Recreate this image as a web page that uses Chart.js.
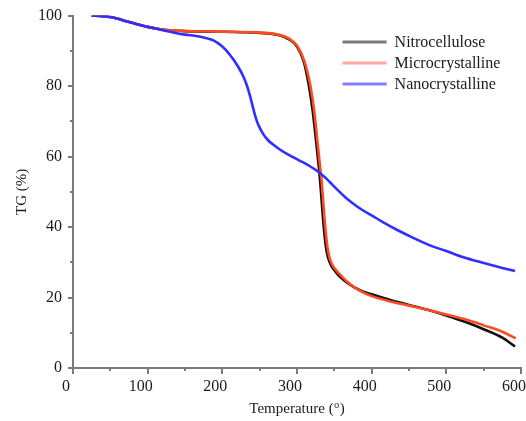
<!DOCTYPE html>
<html>
<head>
<meta charset="utf-8">
<script src="https://cdn.jsdelivr.net/npm/chart.js@4"></script>
<style>
  html, body { margin: 0; padding: 0; background: #fff; }
  #wrap { width: 526px; height: 421px; position: relative; }
</style>
</head>
<body>
<div id="wrap"><canvas id="c" width="526" height="421"></canvas></div>
<script>
// ---- data ----
const seriesNames = ["Nitrocellulose", "Microcrystalline", "Nanocrystalline"];

const tempNitro = [25, 40, 50, 60, 70, 80, 90, 100, 115, 130, 150, 200, 250, 275, 290, 300, 309, 316, 321, 326, 329, 331, 333, 335, 337, 339, 342, 346, 351, 358, 368, 384, 400, 425, 450, 475, 500, 525, 550, 575, 592];
const tgNitro   = [100, 99.85, 99.6, 99.1, 98.5, 97.9, 97.3, 96.8, 96.2, 95.85, 95.6, 95.4, 95.1, 94.5, 93.2, 91.2, 87, 80, 73, 63.5, 57.5, 53, 47.5, 42, 37.5, 34, 31, 29, 27.5, 25.8, 24.1, 22.1, 20.9, 19.3, 17.9, 16.5, 14.9, 13.1, 11.0, 8.6, 6.1];

const tempMicro = [25, 40, 50, 60, 70, 80, 90, 100, 115, 130, 150, 200, 250, 275, 290, 300, 310, 318, 323, 328, 331, 333, 335, 337, 339, 341, 344, 348, 353, 360, 370, 385, 400, 425, 450, 475, 500, 525, 550, 575, 593];
const tgMicro   = [100, 99.85, 99.6, 99.1, 98.5, 97.9, 97.3, 96.8, 96.2, 95.85, 95.6, 95.45, 95.15, 94.6, 93.4, 91.5, 87, 80, 73, 63, 57, 53, 47.5, 42, 37.5, 34, 31, 29, 27.6, 26, 24.0, 21.8, 20.4, 18.9, 17.7, 16.5, 15.2, 13.8, 12.1, 10.3, 8.4];

const tempNano = [25, 40, 50, 60, 70, 80, 90, 100, 115, 130, 143, 155, 165, 175, 185, 192, 198, 204, 210, 216, 222, 228, 233, 237, 240, 243, 246, 250, 255, 261, 268, 277, 286, 295, 304, 312, 320, 327, 333, 340, 347, 355, 365, 375, 387, 400, 415, 433, 455, 478, 500, 522, 550, 575, 592];
const tgNano   = [100, 99.85, 99.6, 99.1, 98.5, 97.9, 97.3, 96.8, 96.1, 95.4, 94.8, 94.5, 94.2, 93.8, 93.2, 92.5, 91.6, 90.4, 88.9, 87.2, 85.2, 82.8, 80.1, 77.3, 74.8, 72.3, 70.2, 68.2, 66.3, 64.7, 63.4, 62.0, 60.8, 59.8, 58.8, 57.9, 56.9, 55.9, 54.9, 53.6, 52.1, 50.4, 48.4, 46.7, 44.9, 43.3, 41.4, 39.3, 37.0, 34.8, 33.2, 31.5, 29.8, 28.4, 27.5];

const xTicks = [0, 100, 200, 300, 400, 500, 600];
const yTicks = [0, 20, 40, 60, 80, 100];

const lineColors   = ["#111111", "#ff4a22", "#2f2fff"];
const legendColors = ["#7a7a7a", "#ffa8a0", "#8080ff"];

const FONT = "'Liberation Serif', 'Times New Roman', serif";

function pts(xs, ys) { return xs.map((x, i) => ({ x: x, y: ys[i] })); }

// minor/major ticks drawn through the scales
const tickPlugin = {
  id: 'ticks',
  afterDraw(chart) {
    const ctx = chart.ctx, xs = chart.scales.x, ys = chart.scales.y;
    const area = chart.chartArea;
    ctx.save();
    ctx.strokeStyle = '#7a7a7a';
    ctx.lineWidth = 2;
    for (let v = 0; v <= 100; v += 10) {
      const p = Math.round(ys.getPixelForValue(v));
      const len = (v % 20 === 0) ? 5 : 3;
      ctx.beginPath(); ctx.moveTo(area.left, p); ctx.lineTo(area.left - len, p); ctx.stroke();
    }
    for (let v = 0; v <= 600; v += 50) {
      const p = Math.round(xs.getPixelForValue(v));
      const len = (v % 100 === 0) ? 6 : 3;
      ctx.beginPath(); ctx.moveTo(p, area.bottom); ctx.lineTo(p, area.bottom + len); ctx.stroke();
    }
    ctx.restore();
  }
};

// legend inside the plot
const legendPlugin = {
  id: 'inLegend',
  afterDraw(chart) {
    const ctx = chart.ctx;
    const x0 = chart.scales.x.getPixelForValue(361);
    const x1 = chart.scales.x.getPixelForValue(420);
    const yTop = chart.scales.y.getPixelForValue(92.5);
    const step = 21;
    ctx.save();
    ctx.font = "16px " + FONT;
    ctx.textBaseline = 'middle';
    seriesNames.forEach((name, i) => {
      const y = yTop + i * step;
      ctx.strokeStyle = legendColors[i];
      ctx.lineWidth = 3;
      ctx.beginPath(); ctx.moveTo(x0, y); ctx.lineTo(x1, y); ctx.stroke();
      ctx.fillStyle = '#1a1a1a';
      ctx.fillText(name, x1 + 8, y + 1);
    });
    ctx.restore();
  }
};

const datasets = [
  { label: seriesNames[0], data: pts(tempNitro, tgNitro), borderColor: lineColors[0], order: 2 },
  { label: seriesNames[1], data: pts(tempMicro, tgMicro), borderColor: lineColors[1], order: 1 },
  { label: seriesNames[2], data: pts(tempNano, tgNano), borderColor: lineColors[2], order: 0 }
].map(d => Object.assign(d, {
  borderWidth: 2.6, pointRadius: 0, fill: false, cubicInterpolationMode: 'monotone'
}));

new Chart(document.getElementById('c'), {
  type: 'line',
  data: { datasets: datasets },
  plugins: [tickPlugin, legendPlugin],
  options: {
    responsive: false,
    animation: false,
    events: [],
    layout: { padding: { top: 14, right: 5, left: 0, bottom: 0 } },
    plugins: { legend: { display: false }, tooltip: { enabled: false } },
    scales: {
      x: {
        type: 'linear', min: 0, max: 600,
        afterBuildTicks(s) { s.ticks = xTicks.map(v => ({ value: v })); },
        afterFit(s) { s.height = 53; s.paddingLeft = 0; s.paddingRight = 0; },
        grid: { display: false, drawTicks: true, tickLength: 6 },
        border: { display: true, color: '#7a7a7a', width: 2 },
        ticks: { font: { family: FONT, size: 16 }, color: '#1a1a1a', padding: 3, maxRotation: 0, labelOffset: -7 },
        title: { display: true, text: 'Temperature (°)', font: { family: FONT, size: 15 }, color: '#1a1a1a', padding: { top: 0, bottom: 3 } }
      },
      y: {
        min: 0, max: 100,
        afterBuildTicks(s) { s.ticks = yTicks.map(v => ({ value: v })); },
        afterFit(s) { s.width = 73; },
        grid: { display: false, drawTicks: true, tickLength: 5 },
        border: { display: true, color: '#7a7a7a', width: 2 },
        ticks: { font: { family: FONT, size: 16 }, color: '#1a1a1a', padding: 6 },
        title: { display: true, text: 'TG (%)', font: { family: FONT, size: 15 }, color: '#1a1a1a', padding: { top: 13, bottom: 0 } }
      }
    }
  }
});
</script>
</body>
</html>
